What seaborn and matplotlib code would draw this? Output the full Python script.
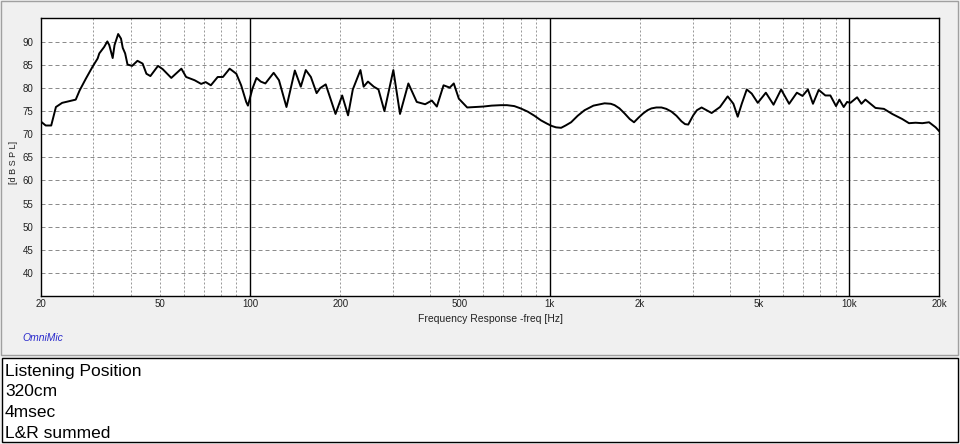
import pandas as pd
import matplotlib.pyplot as plt
import seaborn as sns
from matplotlib.patches import Rectangle

freq = [20, 20.8, 21.7, 22.5, 23.6, 26.2, 27.0, 28.3, 29.8, 31.0, 31.4, 32.6, 33.4, 33.9,
        34.8, 35.3, 36.3, 37.1, 37.6, 38.3, 39.0, 40.4, 42.1, 43.8, 45.1, 46.5, 49.3, 51.1,
        54.6, 59.0, 61.2, 65.3, 68.7, 71.1, 74.0, 78.0, 81.2, 85.5, 90.0, 93.4, 97.1, 98.4,
        101.9, 105.1, 108.6, 112.5, 119.9, 124.9, 132.3, 141.1, 147.7, 153.5, 159.6, 166.8,
        171.5, 178.9, 192.9, 203.0, 212.4, 220.3, 233.6, 239.4, 247.5, 258.8, 268.3, 280.9,
        300.8, 316.6, 337.6, 360.1, 384.1, 404.3, 420.2, 442.4, 464, 478.6, 497.6, 530.6,
        563, 600, 640, 687, 720, 762, 800, 845, 890, 936, 980, 1016, 1050, 1092, 1130, 1179,
        1240, 1307, 1400, 1525, 1600, 1647, 1710, 1779, 1850, 1912, 1980, 2050, 2120,
        2186, 2270, 2361, 2450, 2550, 2650, 2754, 2830, 2900, 2950, 3014, 3100, 3214, 3472,
        3702, 3927, 4104, 4242, 4376, 4548,
        4725, 4949, 5266, 5586, 5922, 6298, 6684, 6980, 7276, 7564, 7904, 8318, 8645, 9030,
        9266, 9580, 9832, 10084, 10618, 10976, 11318, 12230, 13046, 13910, 15020, 15820,
        16646, 17528, 18460, 19420, 20000]
spl = [72.8, 71.9, 71.9, 75.9, 76.8, 77.5, 79.5, 82.0, 84.6, 86.4, 87.5, 88.9, 90.1, 89.3,
       86.5, 89.3, 91.7, 90.7, 88.7, 87.5, 85.1, 84.8, 85.9, 85.3, 83.1, 82.6, 84.8, 84.1,
       82.2, 84.2, 82.4, 81.7, 80.9, 81.3, 80.6, 82.4, 82.4, 84.2, 83.1, 80.6, 77.0, 76.2,
       79.9, 82.2, 81.4, 81.0, 83.3, 81.7, 75.9, 83.8, 80.3, 83.9, 82.4, 78.9,
       80.0, 80.8, 74.4, 78.4, 74.1, 79.7, 83.9, 80.3, 81.4, 80.3, 79.7, 75.0,
       83.9, 74.4, 81.0, 77.0, 76.5, 77.3, 76.0, 80.6, 80.1, 81.0, 77.7, 75.8,
       75.9, 76.0, 76.2, 76.3, 76.3, 76.1, 75.6, 74.9, 74.0, 73.0, 72.3, 71.8, 71.5, 71.4, 71.9, 72.6,
       74.0, 75.2, 76.2, 76.7, 76.6, 76.3, 75.6, 74.5, 73.3, 72.6, 73.6, 74.5, 75.2,
       75.6, 75.8, 75.8, 75.5, 74.9, 74.0, 72.8, 72.2, 72.1, 73.0, 74.1, 75.2, 75.8, 74.6,
       75.9, 78.2, 76.6, 73.8, 76.6, 79.7,
       78.8, 76.8, 79.0, 76.4, 79.7, 76.6, 79.0, 78.3, 79.7, 76.6, 79.6, 78.4, 78.4, 76.1,
       77.5, 75.9, 77.0, 76.8, 78.0, 76.6, 77.5, 75.7, 75.5, 74.4, 73.3, 72.4,
       72.5, 72.4, 72.6, 71.5, 70.6]

x_ticks = [20, 50, 100, 200, 500, 1000, 2000, 5000, 10000, 20000]
x_labels = ['20', '50', '100', '200', '500', '1k', '2k', '5k', '10k', '20k']
y_ticks = [40, 45, 50, 55, 60, 65, 70, 75, 80, 85, 90]
minor_freqs = [30, 40, 50, 60, 70, 80, 90, 200, 300, 400, 500, 600, 700, 800, 900,
               2000, 3000, 4000, 5000, 6000, 7000, 8000, 9000]
decade_freqs = [100, 1000, 10000]
notes = ['Listening Position', '320cm', '4msec', 'L&R summed']

df = pd.DataFrame({'freq': freq, 'spl': spl})

sns.set_style('white')
narrow = ['Liberation Sans Narrow', 'Liberation Sans', 'DejaVu Sans']
plt.rcParams['font.family'] = narrow

W, H = 960, 444
fig = plt.figure(figsize=(W / 100, H / 100), dpi=100)
fig.patch.set_facecolor('#f0f0f0')

# outer panel and the notes box, kept behind the axes
fig.patches.append(Rectangle((1 / W, 1 - 355 / H), 957 / W, 354 / H, transform=fig.transFigure,
                             facecolor='#f0f0f0', edgecolor='#a0a0a0', lw=1, zorder=-2))
fig.patches.append(Rectangle((2 / W, 1 - 442 / H), 956 / W, 84 / H, transform=fig.transFigure,
                             facecolor='white', edgecolor='black', lw=1, zorder=-2))

ax = fig.add_axes([40.6 / W, 1 - 296 / H, (939.5 - 40.6) / W, (296 - 18.3) / H])
ax.set_zorder(2)
ax.set_facecolor('white')

for f in minor_freqs:
    ax.axvline(f, color='#9a9a9a', lw=0.72, dashes=(2, 2), zorder=1)
for v in y_ticks:
    ax.axhline(v, color='#8c8c8c', lw=0.72, dashes=(4, 3), zorder=1)
for f in decade_freqs:
    ax.axvline(f, color='black', lw=1.0, zorder=2)

sns.lineplot(data=df, x='freq', y='spl', ax=ax, color='black', lw=1.4, zorder=3)

ax.set_xscale('log')
ax.set_xlim(20, 20000)
ax.set_ylim(35, 95.1)
ax.set_xticks(x_ticks)
ax.set_xticklabels(x_labels)
ax.xaxis.set_minor_locator(plt.NullLocator())
ax.set_yticks(y_ticks)
ax.tick_params(length=0, labelsize=7, colors='#222222')
ax.tick_params(axis='y', pad=5)
ax.tick_params(axis='x', pad=2.5)
for s in ax.spines.values():
    s.set_color('black')
    s.set_linewidth(1.0)

ax.set_xlabel('Frequency Response -freq [Hz]', fontsize=7.5, color='#222222')
ax.xaxis.set_label_coords(0.5, -0.066)
ax.set_ylabel('[d B S P L]', fontsize=6.5, color='#222222')
ax.yaxis.set_label_coords(-0.025, 0.48)

fig.text(22 / W, 1 - 338 / H, 'OmniMic', color='#2a2acc', fontsize=7.5, style='italic',
         va='center', ha='left')

for i, line in enumerate(notes):
    fig.text(5 / W, 1 - (371 + i * 20.7) / H, line, fontsize=12.5, va='center', ha='left',
             family=['Liberation Sans', 'DejaVu Sans'], color='black')

fig.savefig('out.png', dpi=100, facecolor=fig.get_facecolor())
